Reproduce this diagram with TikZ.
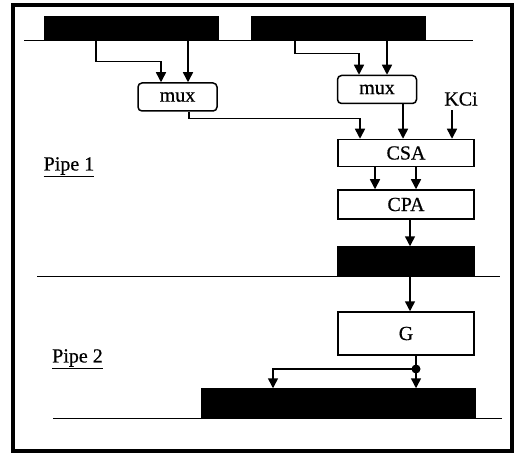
\documentclass[tikz,border=0pt]{standalone}
\usepackage{fontspec}
\setmainfont{Liberation Serif}
\newfontfamily\scanfont[FakeBold=0.6]{Liberation Serif}
\usetikzlibrary{arrows.meta}

\begin{document}
\begin{tikzpicture}[x=1pt,y=-1pt,line width=1.5pt,
    font=\fontsize{20}{22}\selectfont\scanfont,
    arr/.style={-{Triangle[length=10pt,width=10pt]}},
    reg/.style={fill=black,draw=black,inner sep=0pt},
    unit/.style={draw,inner sep=0pt,minimum width=136pt},
    muxbox/.style={draw,rounded corners=4pt,inner sep=0pt,minimum width=79pt,minimum height=28pt},
    lbl/.style={inner sep=0pt}]

    % page and frame
    \useasboundingbox (0,0) rectangle (518,462);
    \draw[line width=3.2pt] (13,5) rectangle (512,451);

    % pipeline register lines
    \draw[line width=0.9pt] (24,40) -- (473,40);
    \draw[line width=0.9pt] (37,276) -- (500,276);
    \draw[line width=0.9pt] (53,418) -- (502,418);

    % these are the registers
    \node[reg,minimum width=173pt,minimum height=23pt] (regA) at (131.5,28.5) {};
    \node[reg,minimum width=173pt,minimum height=23pt] (regB) at (338.5,28.5) {};
    \node[reg,minimum width=137pt,minimum height=29pt] (regC) at (406,261.5) {};
    \node[reg,minimum width=273pt,minimum height=29pt] (regD) at (338.5,403.5) {};

    % these are the blocks
    \node[muxbox] (muxA) at (177.5,97) {mux};
    \node[muxbox] (muxB) at (377,89.5) {mux};
    \node[unit,minimum height=27pt] (csa) at (406,153) {CSA};
    \node[unit,minimum height=29pt] (cpa) at (406,204.5) {CPA};
    \node[unit,minimum height=43pt] (g) at (406,333.5) {G};
    \node[lbl] (kci) at (461,99) {KCi};
    \node[lbl] (pipeA) at (69,167) {\underline{Pipe 1}};
    \node[lbl] (pipeB) at (77.5,359) {\underline{Pipe 2}};
    \fill (416,369) coordinate (jn) circle (4.5pt);

    % registers to muxes
    \draw[arr] ([xshift=-35.5pt]regA.south) |- ++(65,21) -- ([xshift=-16.5pt]muxA.north);
    \draw[arr] ([xshift=56.5pt]regA.south) -- ([xshift=56.5pt]regA.south |- muxA.north);
    \draw[arr] ([xshift=-43.5pt]regB.south) |- ++(64,13) -- ([xshift=-18pt]muxB.north);
    \draw[arr] ([xshift=48.5pt]regB.south) -- ([xshift=48.5pt]regB.south |- muxB.north);

    % into the CSA
    \draw[arr] ([xshift=11.5pt]muxA.south) |- ++(171,7) -- ([xshift=-46pt]csa.north);
    \draw[arr] ([xshift=26pt]muxB.south) -- ([xshift=26pt]muxB.south |- csa.north);
    \draw[arr] ([xshift=-9pt,yshift=-4pt]kci.south) -- ([xshift=-9pt]kci.south |- csa.north);

    % down the pipe
    \draw[arr] ([xshift=-31pt]csa.south) -- ([xshift=-31pt]cpa.north);
    \draw[arr] ([xshift=10pt]csa.south) -- ([xshift=10pt]cpa.north);
    \draw[arr] ([xshift=4pt]cpa.south) -- ([xshift=4pt]regC.north);
    \draw[arr] ([xshift=4pt]regC.south) -- ([xshift=4pt]g.north);
    \draw (g.south -| jn) -- (jn);
    \draw[arr] (jn) -- (jn |- regD.north);
    \draw[arr] (jn) -| ([xshift=-65.5pt]regD.north);

\end{tikzpicture}
\end{document}
